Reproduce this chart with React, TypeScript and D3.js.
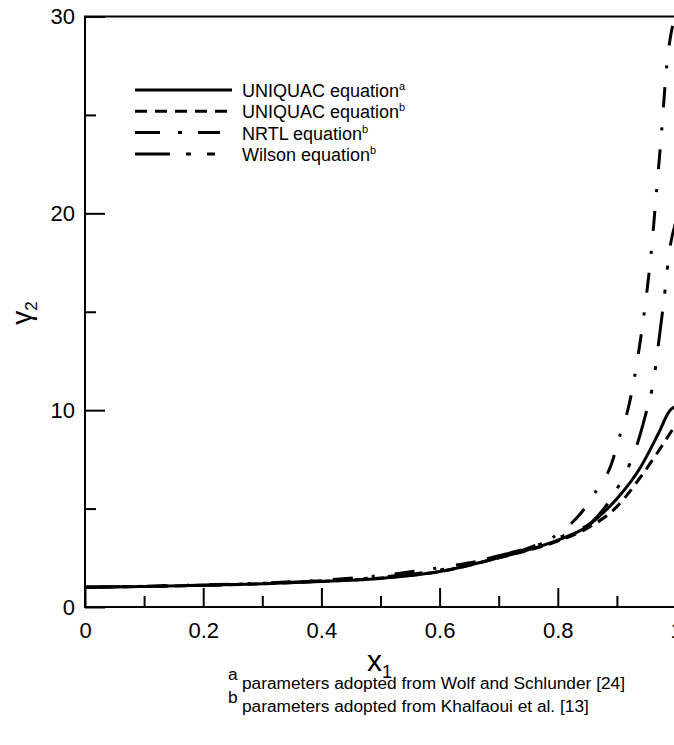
import React, { useEffect, useRef } from "react";
import * as d3 from "d3";

// gamma_2 vs x_1
const x1UniquacA = [0, 0.1, 0.2, 0.3, 0.4, 0.5, 0.6, 0.7, 0.75, 0.8, 0.85, 0.87, 0.9, 0.94, 0.97, 0.99, 1.0];
const g2UniquacA = [1.0, 1.04, 1.1, 1.18, 1.3, 1.45, 1.8, 2.5, 2.9, 3.4, 4.1, 4.6, 5.5, 7.1, 8.8, 10.0, 10.2];

const x1UniquacB = [0, 0.1, 0.2, 0.3, 0.4, 0.5, 0.6, 0.7, 0.8, 0.85, 0.9, 0.94, 0.97, 1.0];
const g2UniquacB = [1.0, 1.04, 1.1, 1.18, 1.3, 1.47, 1.8, 2.5, 3.35, 4.0, 5.1, 6.6, 7.9, 9.3];

const x1Nrtl = [0, 0.1, 0.2, 0.3, 0.4, 0.5, 0.6, 0.7, 0.76, 0.8, 0.84, 0.865, 0.89, 0.905, 0.92, 0.936, 0.946, 0.958, 0.967, 0.976, 0.984, 0.992, 1.0];
const g2Nrtl = [1.0, 1.05, 1.12, 1.22, 1.36, 1.6, 2.0, 2.55, 3.1, 3.7, 4.8, 5.9, 7.2, 8.7, 10.2, 12.8, 14.9, 18.0, 21.1, 24.3, 27.4, 29.2, 30];

const x1Wilson = [0, 0.1, 0.2, 0.3, 0.4, 0.5, 0.6, 0.7, 0.75, 0.8, 0.82, 0.857, 0.894, 0.911, 0.929, 0.947, 0.962, 0.973, 0.98, 0.989, 1.0];
const g2Wilson = [1.0, 1.05, 1.11, 1.2, 1.33, 1.52, 1.88, 2.6, 3.0, 3.5, 3.75, 4.3, 5.7, 6.6, 7.8, 9.6, 11.5, 14.0, 15.7, 18.1, 19.6];

const legendNames = ["UNIQUAC equation", "UNIQUAC equation", "NRTL equation", "Wilson equation"];
const legendMarks = ["a", "b", "b", "b"];

const xMajorTicks = [0, 0.2, 0.4, 0.6, 0.8, 1];
const xTickLabels = ["0", "0.2", "0.4", "0.6", "0.8", "1"];
const xMinorTicks = [0.1, 0.3, 0.5, 0.7, 0.9];
const yMajorTicks = [0, 10, 20, 30];
const yMinorTicks = [5, 15, 25];

const footnotes = [
  ["a", "parameters adopted from Wolf and Schlunder [24]"],
  ["b", "parameters adopted from Khalfaoui et al. [13]"],
];

const FONT = "'Liberation Sans', Arial, sans-serif";

export default function App() {
  const ref = useRef<SVGSVGElement>(null);

  useEffect(() => {
    const svg = d3.select(ref.current);
    svg.selectAll("*").remove();

    const left = 85, right = 676, top = 16.5, bottom = 607;
    const x = d3.scaleLinear().domain([0, 1]).range([left, right]);
    const y = d3.scaleLinear().domain([0, 30]).range([bottom, top]);

    // curves: solid, dashed, dash-dot, dash-dot-dot
    const series = [
      { xs: x1UniquacA, ys: g2UniquacA, dash: null, legendDash: null },
      { xs: x1UniquacB, ys: g2UniquacB, dash: "11,7", legendDash: "12,8" },
      { xs: x1Nrtl, ys: g2Nrtl, dash: "20,19,3,20", legendDash: "25,18,4,16,22,40" },
      { xs: x1Wilson, ys: g2Wilson, dash: "35,18,4,20,4,20", legendDash: "35,16,5,16,8,40" },
    ];

    const line = d3
      .line<[number, number]>()
      .x(d => x(d[0]))
      .y(d => y(d[1]))
      .curve(d3.curveMonotoneX);

    svg
      .append("defs")
      .append("clipPath")
      .attr("id", "plot-clip")
      .append("rect")
      .attr("x", left)
      .attr("y", top - 2)
      .attr("width", right - left)
      .attr("height", bottom - top + 2);

    const curves = svg.append("g").attr("clip-path", "url(#plot-clip)");
    series.forEach(s => {
      curves
        .append("path")
        .datum(s.xs.map((v, i) => [v, s.ys[i]] as [number, number]))
        .attr("d", line)
        .attr("fill", "none")
        .attr("stroke", "#000")
        .attr("stroke-width", 3)
        .attr("stroke-dasharray", s.dash);
    });

    // axes, ticks pointing inward
    const styleAxis = (g, size) => {
      g.select(".domain").remove();
      g.selectAll(".tick line").attr("stroke", "#000").attr("stroke-width", 2);
      g.selectAll("text").attr("fill", "#000").attr("font-size", size).attr("font-family", FONT);
    };

    svg
      .append("g")
      .attr("transform", `translate(0, ${bottom})`)
      .call(
        d3.axisBottom(x)
          .tickValues(xMajorTicks)
          .tickSize(-19)
          .tickPadding(15)
          .tickFormat((d, i) => xTickLabels[i])
      )
      .call(g => styleAxis(g, 22));

    svg
      .append("g")
      .attr("transform", `translate(0, ${bottom})`)
      .call(d3.axisBottom(x).tickValues(xMinorTicks).tickSize(-11).tickFormat(() => ""))
      .call(g => styleAxis(g, 22));

    svg
      .append("g")
      .attr("transform", `translate(${left}, 0)`)
      .call(d3.axisLeft(y).tickValues(yMajorTicks).tickSize(-20).tickPadding(10))
      .call(g => styleAxis(g, 22));

    svg
      .append("g")
      .attr("transform", `translate(${left}, 0)`)
      .call(d3.axisLeft(y).tickValues(yMinorTicks).tickSize(-11).tickFormat(() => ""))
      .call(g => styleAxis(g, 22));

    svg
      .append("rect")
      .attr("x", left)
      .attr("y", top)
      .attr("width", right - left)
      .attr("height", bottom - top)
      .attr("fill", "none")
      .attr("stroke", "#000")
      .attr("stroke-width", 2);

    // axis titles
    const xTitle = svg
      .append("text")
      .attr("x", 367)
      .attr("y", 671)
      .attr("font-family", FONT)
      .attr("fill", "#000");
    xTitle.append("tspan").attr("font-size", 30).text("x");
    xTitle.append("tspan").attr("font-size", 18).attr("dy", 7).text("1");

    const yTitle = svg
      .append("text")
      .attr("transform", "translate(31, 313) rotate(-90)")
      .attr("text-anchor", "middle")
      .attr("font-family", FONT)
      .attr("fill", "#000");
    yTitle.append("tspan").attr("font-size", 28).text("γ");
    yTitle.append("tspan").attr("font-size", 17).attr("dy", 6).text("2");

    // legend
    const legend = svg.append("g");
    series.forEach((s, i) => {
      const ly = 90 + i * 21.3;
      legend
        .append("line")
        .attr("x1", 135)
        .attr("x2", 232)
        .attr("y1", ly)
        .attr("y2", ly)
        .attr("stroke", "#000")
        .attr("stroke-width", 3)
        .attr("stroke-dasharray", s.legendDash);
      const t = legend
        .append("text")
        .attr("x", 242)
        .attr("y", ly + 7)
        .attr("font-family", FONT)
        .attr("font-size", 18)
        .attr("fill", "#000");
      t.append("tspan").text(legendNames[i]);
      t.append("tspan").attr("font-size", 11).attr("dy", -7).text(legendMarks[i]);
    });

    // footnotes
    footnotes.forEach(([mark, note], i) => {
      const fy = 689 + i * 23;
      const t = svg
        .append("text")
        .attr("x", 228)
        .attr("y", fy - 9)
        .attr("font-family", FONT)
        .attr("font-size", 17.3)
        .attr("fill", "#000");
      t.append("tspan").text(mark);
      t.append("tspan").attr("x", 242).attr("y", fy).text(note);
    });
  }, []);

  return (
    <svg
      ref={ref}
      width={674}
      height={745}
      style={{ position: "absolute", left: 0, top: 0, background: "#fff" }}
    />
  );
}
